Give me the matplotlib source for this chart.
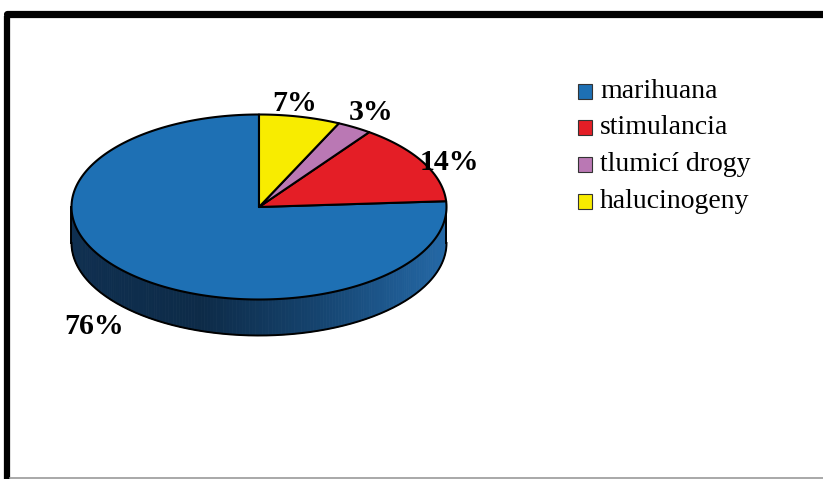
import numpy as np
import matplotlib
matplotlib.use("Agg")
import matplotlib.pyplot as plt
from matplotlib.patches import Polygon, Rectangle
from matplotlib.colors import to_rgb

# ---- data ----
categories = ["marihuana", "stimulancia", "tlumicí drogy", "halucinogeny"]
values = [76, 14, 3, 7]
labels = ["76%", "14%", "3%", "7%"]
colors = ["#1E70B4", "#E41E26", "#BA78B4", "#F8EC00"]

W, H = 823, 479
fig = plt.figure(figsize=(W / 100, H / 100), dpi=100)
ax = fig.add_axes([0, 0, 1, 1])
ax.set_xlim(0, W)
ax.set_ylim(H, 0)
ax.axis("off")

# pie geometry (pixel space)
cx, cy = 259, 207
rx, ry = 187.5, 92.5
depth = 36
start = 90.0

def pt(a, dy=0.0):
    r = np.deg2rad(a)
    return cx + rx * np.cos(r), cy - ry * np.sin(r) + dy

fracs = np.array(values, float) / np.sum(values)
angles = start + np.concatenate([[0], np.cumsum(fracs) * 360])

# side face (visible front half 180..360), gradient strips
stops = [(0.0, "#0f2f50"), (0.35, "#0d2b48"), (0.65, "#15436e"), (1.0, "#2468a6")]
def side_color(t):
    for (t0, c0), (t1, c1) in zip(stops[:-1], stops[1:]):
        if t0 <= t <= t1:
            f = (t - t0) / (t1 - t0)
            a0, a1 = np.array(to_rgb(c0)), np.array(to_rgb(c1))
            return a0 + (a1 - a0) * f
    return np.array(to_rgb(stops[-1][1]))

n = 180
side_angles = np.linspace(180, 360, n + 1)
for a0, a1 in zip(side_angles[:-1], side_angles[1:]):
    aa = np.linspace(a0, a1, 3)
    top = [pt(a) for a in aa]
    bot = [pt(a, depth) for a in aa[::-1]]
    xm = (pt((a0 + a1) / 2)[0] - (cx - rx)) / (2 * rx)
    ax.add_patch(Polygon(top + bot, closed=True, facecolor=side_color(xm),
                         edgecolor=side_color(xm), lw=0.6, zorder=1))
# side outline
aa = np.linspace(180, 360, 200)
bx = [pt(a, depth)[0] for a in aa]
by = [pt(a, depth)[1] for a in aa]
ax.plot(bx, by, color="black", lw=1.4, zorder=2)
for a in (180, 360):
    x0, y0 = pt(a)
    ax.plot([x0, x0], [y0, y0 + depth], color="black", lw=1.4, zorder=2)

# top wedges
for i in range(len(values)):
    a0, a1 = angles[i], angles[i + 1]
    aa = np.linspace(a0, a1, max(int(abs(a1 - a0)), 2) + 1)
    poly = [(cx, cy)] + [pt(a) for a in aa]
    ax.add_patch(Polygon(poly, closed=True, facecolor=colors[i],
                         edgecolor="black", lw=1.5, joinstyle="round", zorder=3))

# percentage labels
label_pos = {"76%": (94, 326), "14%": (449, 162), "3%": (371, 112), "7%": (295, 103)}
for lab in labels:
    x, y = label_pos[lab]
    ax.text(x, y, lab, fontsize=21.5, fontweight="bold", family="Liberation Serif",
            ha="center", va="center", zorder=5)

# legend
lx, ly0, dy = 578, 91, 36.8
for i, cat in enumerate(categories):
    y = ly0 + i * dy
    ax.add_patch(Rectangle((lx, y - 7.5), 14, 15, facecolor=colors[i],
                           edgecolor="#333333", lw=0.8, zorder=5))
    ax.text(lx + 22, y, cat, fontsize=20, family="Liberation Serif",
            ha="left", va="center", zorder=5)

# frame
ax.plot([7, 7], [H + 5, 16], color="black", lw=4.5, solid_capstyle="butt", zorder=6)
ax.plot([7, W + 5], [13.5, 13.5], color="black", lw=5.2, solid_capstyle="round", zorder=6)
ax.plot([10, W], [477.5, 477.5], color="#999999", lw=1.2, zorder=6)

fig.savefig("out.png", dpi=100)
